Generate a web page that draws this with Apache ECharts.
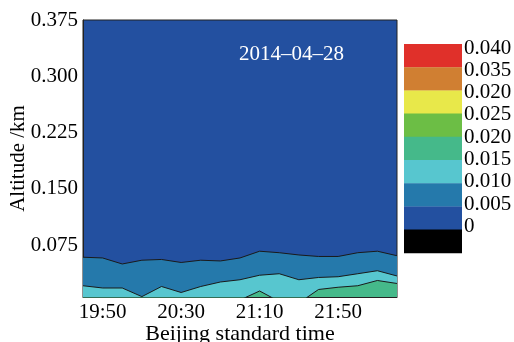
<!DOCTYPE html>
<html>
<head>
<meta charset="utf-8">
<script src="https://cdn.jsdelivr.net/npm/echarts@6/dist/echarts.min.js"></script>
<style>
  html, body { margin: 0; padding: 0; background: #fff; }
  #chart { width: 514px; height: 342px; }
</style>
</head>
<body>
<div id="chart"></div>
<script>
  // 时间 (北京时间)
  var times = ['19:40', '19:50', '20:00', '20:10', '20:20', '20:30', '20:40', '20:50', '21:00',
               '21:10', '21:20', '21:30', '21:40', '21:50', '22:00', '22:10', '22:20'];
  // 等值线高度 /km
  var contour005 = [0.059, 0.058, 0.050, 0.055, 0.056, 0.052, 0.055, 0.054, 0.058,
                    0.067, 0.065, 0.062, 0.060, 0.060, 0.065, 0.067, 0.061];
  var contour010 = [0.021, 0.018, 0.018, 0.0065, 0.020, 0.012, 0.020, 0.026, 0.029,
                    0.035, 0.037, 0.029, 0.032, 0.033, 0.037, 0.041, 0.034];
  var contour015 = [0.000, 0.000, 0.000, 0.000, 0.000, 0.000, 0.000, 0.000, 0.002,
                    0.014, 0.000, -0.002, 0.016, 0.019, 0.021, 0.028, 0.024];
  var yTicks = [0.075, 0.15, 0.225, 0.3, 0.375];
  var yMinorTicks = [0.0375, 0.075, 0.1125, 0.15, 0.1875, 0.225, 0.2625, 0.3, 0.3375, 0.375];
  // 色标
  var barColors = ['#e0302a', '#d07f32', '#e8e84a', '#6cbe45', '#45b98a', '#57c6cf', '#2579ab', '#2350a0', '#000000'];
  var barLabels = ['0.040', '0.035', '0.020', '0.025', '0.020', '0.015', '0.010', '0.005', '0'];

  var font = 'Liberation Serif';
  var chart = echarts.init(document.getElementById('chart'));

  //色标图形：
  var graphics = [];
  for (var i = 0; i < barColors.length; i++) {
    graphics.push({
      type: 'rect',
      shape: {x: 404, y: 44 + i * 23.2, width: 58, height: 23.6},
      style: {fill: barColors[i]}
    });
    graphics.push({
      type: 'text',
      x: 464, y: 48 + i * 22.3,
      style: {text: barLabels[i], fill: '#000', font: '21px ' + font, verticalAlign: 'middle'}
    });
  }
  graphics.push({
    type: 'text',
    x: 239, y: 54,
    style: {text: '2014\u201304\u201328', fill: '#fff', font: '21px ' + font, verticalAlign: 'middle'}
  });

  function band(name, data, color) {
    return {
      name: name,
      type: 'line',
      data: data,
      symbol: 'none',
      silent: true,
      lineStyle: {color: '#1a1a1a', width: 1},
      areaStyle: {color: color, opacity: 1, origin: 'start'}
    };
  }

  chart.setOption({
    animation: false,
    textStyle: {fontFamily: font},
    grid: {
      left: 83, top: 20, width: 314, height: 277,
      containLabel: false, outerBoundsMode: 'none',
      show: true, backgroundColor: '#2350a0', borderColor: '#222', borderWidth: 1
    },
    xAxis: {
      type: 'category',
      data: times,
      boundaryGap: false,
      name: 'Beijing standard time',
      nameLocation: 'middle',
      nameGap: 26,
      nameMoveOverlap: false,
      nameTextStyle: {fontSize: 22, color: '#000', fontFamily: font},
      axisLine: {lineStyle: {color: '#222'}},
      axisTick: {inside: true, length: 5, lineStyle: {color: '#222'},
                 interval: function (i) { return i > 0 && i < times.length - 1; }},
      axisLabel: {fontSize: 21, color: '#000', margin: 5,
                  interval: function (i) { return i % 4 === 1; }},
      splitLine: {show: false}
    },
    yAxis: {
      type: 'value',
      min: 0.006,
      max: 0.375,
      name: 'Altitude /km',
      nameLocation: 'middle',
      nameGap: 54,
      nameMoveOverlap: false,
      nameTextStyle: {fontSize: 21, color: '#000', fontFamily: font},
      axisLine: {show: true, lineStyle: {color: '#222'}},
      axisTick: {inside: true, length: 5, lineStyle: {color: '#222'}, customValues: yMinorTicks},
      axisLabel: {fontSize: 21, color: '#000', margin: 5, customValues: yTicks,
                  formatter: function (v) { return v.toFixed(3); }},
      splitLine: {show: false}
    },
    series: [
      band('0.005', contour005, '#2579ab'),
      band('0.010', contour010, '#57c6cf'),
      band('0.015', contour015, '#45b98a')
    ],
    graphic: graphics
  });
</script>
</body>
</html>
